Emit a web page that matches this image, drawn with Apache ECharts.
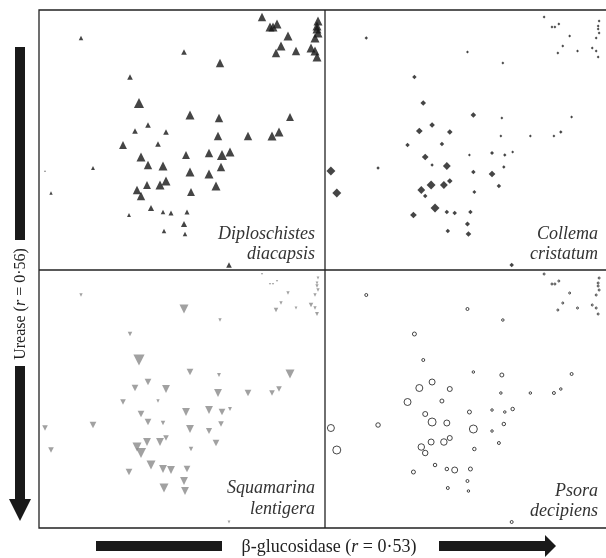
<!DOCTYPE html>
<html>
<head>
<meta charset="utf-8">
<script src="https://cdn.jsdelivr.net/npm/echarts@6/dist/echarts.min.js"></script>
<style>html,body{margin:0;padding:0;background:#fff;}#c{width:606px;height:558px;}</style>
</head>
<body>
<div id="c"></div>
<script>
// Shared ordination positions of the 62 sites (same in every panel)
var xVals = [42,223,231,234,238,249,242,237,257,272,276,278,276,279,278,278,279,145,181,91,100,151,180,251,96,109,127,179,209,233,240,84,119,102,147,170,183,191,6,54,109,124,151,170,182,12,98,102,108,121,127,152,177,90,112,124,132,148,145,125,146,190];
var yVals = [232,253,243,243,246,234,224,217,219,222,219,213,232,249,244,241,237,218,207,193,167,155,152,153,139,145,138,134,134,134,138,125,126,113,115,117,115,118,99,102,105,104,98,96,103,77,80,74,85,85,89,78,84,55,62,58,57,58,46,39,36,5];
// Symbol size (abundance) per species
var sizeDiplo = [4,7.5,8,8,8,8,8,7.5,7.5,8,8,8,8,8,8,8,8,5,7.5,5,9,8,7.5,7,5,5,5,7.5,7.5,8,8,7,5,8,7,7.5,9,8,1.5,3.5,7.5,8,8,8,7.5,3,7.5,7.5,7,8,8,7,8,3.5,5.5,4,4.5,4.5,5.5,4,4,5];
var sizeCollema = [3,2.5,2.5,2.5,2.5,2.5,2.5,2.5,2.5,2.5,2.5,2.5,2.5,2.5,2.5,2.5,2.5,2.5,2.5,4,5,5,2.5,2.5,6,5,5,2.5,2.5,2.5,3,4,4,6,2.5,3.5,3,2.5,8,3,3,7,4,6,3,8,7,4,8,7,5,3.5,4,6,8,4,4,4,4.5,4,5,4];
var sizeSquam = [3,2,2,2,2,3,3,4,2.5,4,3,3.5,3,2.5,2.5,3,3,8,3,4,10,6,3.5,8,6,6,7,7,6,5,5,5,3,6,7,7,6,3.5,5,6,6,4,7,5.5,5,5,8,9,7,7,5,4,6,6,8,7,7,6,7,8,7,2.5];
var sizePsora = [3,2,2,2,2,2,2,2,2,2,2,2,2,2,2,2,2,3,2.5,4,3,2.5,4,3,7,6,5,2.5,2.5,3,2.5,7,4,5,4,2.5,2.5,3.5,7,4.5,8,6,8,2.5,3.5,8,6.5,5.5,6,6.5,5,3.5,3,4,3.5,3.5,6,4,3,3,2.5,3];
var speciesNames = [["Diploschistes","diacapsis"],["Collema","cristatum"],["Squamarina","lentigera"],["Psora","decipiens"]];
var xTitle = "β-glucosidase";
var xR = "0·53";
var yTitle = "Urease";
var yR = "0·56";

function build(sizes){
  return xVals.map(function(x,i){ return [x, yVals[i], sizes[i]]; });
}
var grids = [
  {left:39, top:10, width:286, height:260},
  {left:325, top:10, width:286, height:260},
  {left:39, top:267, width:286, height:260},
  {left:325, top:267, width:286, height:260}
];
var xAxes = grids.map(function(g,i){ return {gridIndex:i, type:'value', min:0, max:286, show:false}; });
var yAxes = grids.map(function(g,i){ return {gridIndex:i, type:'value', min:0, max:260, show:false}; });
var series = [
  {type:'scatter', xAxisIndex:0, yAxisIndex:0, data:build(sizeDiplo), symbol:'triangle', symbolSize:function(v){return v[2]*1.12;}, itemStyle:{color:'#161616'}, silent:true, animation:false},
  {type:'scatter', xAxisIndex:1, yAxisIndex:1, data:build(sizeCollema), symbol:'diamond', symbolSize:function(v){return v[2]*1.12;}, itemStyle:{color:'#161616'}, silent:true, animation:false},
  {type:'scatter', xAxisIndex:2, yAxisIndex:2, data:build(sizeSquam), symbol:'path://M0,0L2,0L1,1.7Z', symbolSize:function(v){return v[2]*1.12;}, itemStyle:{color:'#8a8a8a'}, silent:true, animation:false},
  {type:'scatter', xAxisIndex:3, yAxisIndex:3, data:build(sizePsora), symbol:'circle', symbolSize:function(v){return v[2];}, itemStyle:{color:'#fff', borderColor:'#1a1a1a', borderWidth:1}, silent:true, animation:false}
];

var labelPos = [
  {x:315, y1:234, y2:254},
  {x:598, y1:234, y2:254},
  {x:315, y1:488, y2:509},
  {x:598, y1:491, y2:511}
];
var graphics = [];
// frame
graphics.push({type:'rect', shape:{x:39, y:10, width:580, height:518}, style:{fill:'none', stroke:'#222', lineWidth:1.3}, silent:true});
graphics.push({type:'line', shape:{x1:325, y1:10, x2:325, y2:528}, style:{stroke:'#222', lineWidth:1.3}, silent:true});
graphics.push({type:'line', shape:{x1:39, y1:270, x2:620, y2:270}, style:{stroke:'#222', lineWidth:1.3}, silent:true});
speciesNames.forEach(function(n,i){
  var p = labelPos[i];
  graphics.push({type:'text', x:p.x, y:p.y1, style:{text:n[0], font:'italic 18px "Liberation Serif"', fill:'#333', align:'right', verticalAlign:'middle'}, silent:true});
  graphics.push({type:'text', x:p.x, y:p.y2, style:{text:n[1], font:'italic 18px "Liberation Serif"', fill:'#333', align:'right', verticalAlign:'middle'}, silent:true});
});
// bottom arrow + title
graphics.push({type:'rect', shape:{x:96, y:541, width:126, height:10}, style:{fill:'#1a1a1a'}, silent:true});
graphics.push({type:'rect', shape:{x:439, y:541, width:107, height:10}, style:{fill:'#1a1a1a'}, silent:true});
graphics.push({type:'polygon', shape:{points:[[545,535],[556,546],[545,557]]}, style:{fill:'#1a1a1a'}, silent:true});
graphics.push({type:'text', x:329, y:547, style:{text:xTitle+' ({i|r} = '+xR+')', font:'18px "Liberation Serif"', fill:'#222', align:'center', verticalAlign:'middle', rich:{i:{font:'italic 18px "Liberation Serif"', fill:'#222'}}}, silent:true});
// left arrow + title
graphics.push({type:'rect', shape:{x:15, y:47, width:10, height:193}, style:{fill:'#1a1a1a'}, silent:true});
graphics.push({type:'rect', shape:{x:15, y:366, width:10, height:134}, style:{fill:'#1a1a1a'}, silent:true});
graphics.push({type:'polygon', shape:{points:[[9,499],[31,499],[20,521]]}, style:{fill:'#1a1a1a'}, silent:true});
graphics.push({type:'text', x:21, y:304, rotation:Math.PI/2, style:{text:yTitle+' ({i|r} = '+yR+')', font:'16px "Liberation Serif"', fill:'#222', align:'center', verticalAlign:'middle', rich:{i:{font:'italic 16px "Liberation Serif"', fill:'#222'}}}, silent:true});

var chart = echarts.init(document.getElementById('c'), null, {renderer:'canvas'});
chart.setOption({
  animation:false,
  backgroundColor:'#fff',
  grid:grids,
  xAxis:xAxes,
  yAxis:yAxes,
  series:series,
  graphic:graphics
});
</script>
</body>
</html>
